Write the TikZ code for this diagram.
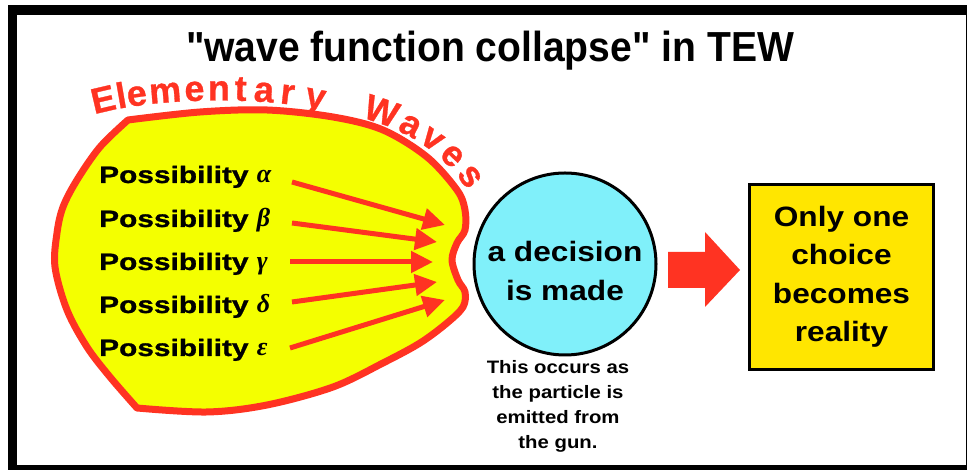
\documentclass[tikz,border=0pt]{standalone}
\usepackage{fontspec}
\setmainfont{Liberation Sans}
\newfontfamily\titlefont[FakeStretch=0.93]{Liberation Sans}
\newfontfamily\widefont[FakeStretch=1.13]{Liberation Sans}
\newfontfamily\posfont[FakeStretch=1.26, BoldFeatures={FakeBold=1}]{Liberation Sans}
\newfontfamily\ewfont[BoldFeatures={FakeBold=0.8}]{Liberation Sans}
\newfontfamily\grkfont{Liberation Serif}
\usetikzlibrary{arrows.meta}
\definecolor{ewred}{HTML}{FF3322}
\definecolor{blobyellow}{HTML}{F4FF00}
\definecolor{deccyan}{HTML}{80F0FA}
\definecolor{boxyellow}{HTML}{FFE600}
\newcommand\greekl[1]{{\grkfont\bfseries\itshape\fontsize{26}{26}\selectfont #1}}
\begin{document}
\begin{tikzpicture}[x=1pt,y=1pt,
  posl/.style={anchor=base west, inner sep=0pt, font=\posfont\bfseries\fontsize{23.7}{24}\selectfont},
  parrow/.style={color=ewred, line width=5pt, -{Triangle[length=22pt,width=21pt]}},
  bigtext/.style={align=center, inner sep=0pt, font=\widefont\bfseries\fontsize{28}{38.5}\selectfont},
  captext/.style={align=center, inner sep=0pt, font=\widefont\bfseries\fontsize{18}{25}\selectfont},
  ewl/.style={anchor=base, inner sep=0pt, text=ewred, font=\ewfont\bfseries\fontsize{36}{36}\selectfont}
]
\useasboundingbox (0,0) rectangle (967,470);
% frame
\fill[black] (8,0) rectangle (967,465);
\fill[white] (17,5) rectangle (966,455);
% title
\node[anchor=base, inner sep=0pt, font=\titlefont\bfseries\fontsize{42}{42}\selectfont] (title) at (490,408) {"wave function collapse" in TEW};
% blob
\filldraw[draw=ewred, fill=blobyellow, line width=7pt, line join=round]
  plot[smooth, tension=0.55] coordinates {(128,350) (200,358) (267,360) (333,353) (383,340) (427,313) (457,280) (465,260) (465,240) (457,227) (452,210) (458,190) (465,178) (463,163) (447,147) (420,127) (383,107) (333,83) (267,65) (207,58) (137,62)}
  -- plot[smooth, tension=0.55] coordinates {(137,62) (110,93) (87,123) (67,160) (55,203) (57,237) (63,263) (77,290) (100,323) (128,350)}
  -- cycle;
% Elementary Waves
\path (96,356) .. controls (160,374) and (280,374) .. (338,356)
  node[ewl, sloped, pos=0.05] (e1) {E}
  node[ewl, sloped, pos=0.129] (e2) {l}
  node[ewl, sloped, pos=0.192] (e3) {e}
  node[ewl, sloped, pos=0.302] (e4) {m}
  node[ewl, sloped, pos=0.410] (e5) {e}
  node[ewl, sloped, pos=0.499] (e6) {n}
  node[ewl, sloped, pos=0.578] (e7) {t}
  node[ewl, sloped, pos=0.665] (e8) {a}
  node[ewl, sloped, pos=0.757] (e9) {r}
  node[ewl, sloped, pos=0.875] (e10) {y};
\path (362,352) .. controls (400,342) and (445,320) .. (470,275)
  node[ewl, sloped, pos=0.135] (w1) {W}
  node[ewl, sloped, pos=0.37] (w2) {a}
  node[ewl, sloped, pos=0.55] (w3) {v}
  node[ewl, sloped, pos=0.725] (w4) {e}
  node[ewl, sloped, pos=0.9] (w5) {s};
% possibilities
\node[posl] (pa) at (99,287) {Possibility \greekl{α}};
\node[posl] (pb) at (99,243) {Possibility \greekl{β}};
\node[posl] (pg) at (99,200) {Possibility \greekl{γ}};
\node[posl] (pd) at (99,157) {Possibility \greekl{δ}};
\node[posl] (pe) at (99,114) {Possibility \greekl{ε}};
\coordinate (sa) at (292,288); \coordinate (ta) at (445,245);
\coordinate (sb) at (292,247); \coordinate (tb) at (437,228);
\coordinate (sg) at (290,208); \coordinate (tg) at (433,208);
\coordinate (sd) at (292,168); \coordinate (td) at (437,188);
\coordinate (se) at (290,122); \coordinate (te) at (445,170);
\draw[parrow] (sa) -- (ta);
\draw[parrow] (sb) -- (tb);
\draw[parrow] (sg) -- (tg);
\draw[parrow] (sd) -- (td);
\draw[parrow] (se) -- (te);
% decision circle
\node[circle, draw=black, line width=3pt, fill=deccyan, minimum size=182pt, inner sep=0pt] (dec) at (565,206) {};
\node[bigtext] (dect) at (565,199) {a decision\\is made};
\node[captext] (cap) at (558,64) {This occurs as\\the particle is\\emitted from\\the gun.};
% result box
\node[draw=black, line width=3pt, fill=boxyellow, minimum width=184pt, minimum height=185pt, bigtext] (box) at (841.5,193) {Only one\\choice\\becomes\\reality};
% big arrow
\fill[ewred] (668,218) -- (705,218) -- (705,238) -- (740,200) -- (705,163) -- (705,182) -- (668,182) -- cycle;
\end{tikzpicture}
\end{document}
